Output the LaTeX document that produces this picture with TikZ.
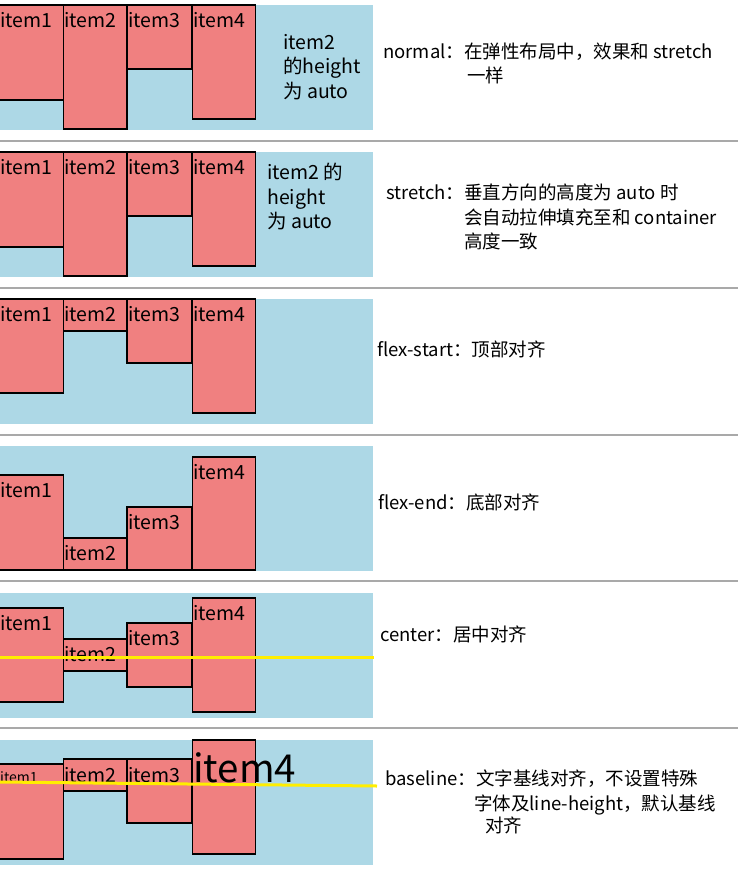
\documentclass[tikz,border=0pt]{standalone}
\usepackage{fontspec}
\setmainfont{Noto Sans CJK SC}
\definecolor{boxblue}{HTML}{ADD8E6}
\definecolor{itemred}{HTML}{F08080}
\definecolor{lineyellow}{HTML}{FFEE00}
\definecolor{rulegray}{HTML}{A9A9A9}
\begin{document}
\begin{tikzpicture}[x=1pt, y=-1pt,
		every node/.style={font=\fontsize{19.5}{23}\selectfont, inner sep=0pt, anchor=base west},
		container/.style={fill=boxblue},
		item/.style={draw, fill=itemred, line width=1.2pt},
		divider/.style={draw=rulegray, line width=1.5pt},
		guide/.style={draw=lineyellow, line width=3pt},
		note/.style={font=\fontsize{18.5}{22}\selectfont}]
	\useasboundingbox (0,0) rectangle (738,876);
	\foreach \t in {5,152,299,446,593,740}
		\fill[container] (0,\t) rectangle (373,\t+125);
	\foreach \y in {141,288,435,581,728}
		\draw[divider] (0,\y) -- (738,\y);
	% normal
	\foreach \n/\xa/\xb/\ya/\yb in {1/-1/63.3/5/100, 2/63.3/127/5/129, 3/127/191.7/5/69, 4/192.3/255.7/5/119} {
		\draw[item] (\xa,\ya) rectangle (\xb,\yb);
		\node (normal-\n) at (\xa+1,\ya+22) {item\n};
	}
	\node (normal-a) at (283,49) {item2};
	\node (normal-b) at (283,73) {的height};
	\node (normal-c) at (283,98) {为 auto};
	\node[note] (normal-t1) at (383,58) {normal：在弹性布局中，效果和 stretch};
	\node[note] (normal-t2) at (467,82) {一样};
	% stretch
	\foreach \n/\xa/\xb/\ya/\yb in {1/-1/63.3/152/247, 2/63.3/127/152/276, 3/127/191.7/152/216, 4/192.3/255.7/152/266} {
		\draw[item] (\xa,\ya) rectangle (\xb,\yb);
		\node (stretch-\n) at (\xa+1,\ya+22) {item\n};
	}
	\node (stretch-a) at (267,179) {item2 的};
	\node (stretch-b) at (267,204) {height};
	\node (stretch-c) at (267,228) {为 auto};
	\node[note] (stretch-t1) at (386,199) {stretch：垂直方向的高度为 auto 时};
	\node[note] (stretch-t2) at (464,224) {会自动拉伸填充至和 container};
	\node[note] (stretch-t3) at (464,248) {高度一致};
	% flex-start
	\foreach \n/\xa/\xb/\ya/\yb in {1/-1/63.3/299/393, 2/63.3/127/299/331, 3/127/191.7/299/363, 4/192.3/255.7/299/413} {
		\draw[item] (\xa,\ya) rectangle (\xb,\yb);
		\node (start-\n) at (\xa+1,\ya+22) {item\n};
	}
	\node[note] (start-t1) at (377,356) {flex-start：顶部对齐};
	% flex-end
	\foreach \n/\xa/\xb/\ya/\yb in {1/-1/63.3/475/570, 2/63.3/127/538/570, 3/127/191.7/507/570, 4/192.3/255.7/457/570} {
		\draw[item] (\xa,\ya) rectangle (\xb,\yb);
		\node (end-\n) at (\xa+1,\ya+22) {item\n};
	}
	\node[note] (end-t1) at (378,509) {flex-end：底部对齐};
	% center
	\foreach \n/\xa/\xb/\ya/\yb in {1/-1/63.3/608/702, 2/63.3/127/639/671, 3/127/191.7/623/687, 4/192.3/255.7/598/712} {
		\draw[item] (\xa,\ya) rectangle (\xb,\yb);
		\node (center-\n) at (\xa+1,\ya+22) {item\n};
	}
	\draw[guide] (0,657) -- (374,657);
	\node[note] (center-t1) at (380,641) {center：居中对齐};
	% baseline
	\draw[item] (-1,764) rectangle (63.3,859);
	\draw[item] (63.3,759) rectangle (127,791);
	\draw[item] (127,759) rectangle (191.7,823);
	\draw[item] (192.3,740) rectangle (255.7,854);
	\node[font=\fontsize{14}{17}\selectfont] (base-1) at (0,782) {item1};
	\node (base-2) at (64.3,782) {item2};
	\node (base-3) at (128,782) {item3};
	\node[font=\fontsize{38.5}{42}\selectfont] (base-4) at (193,782) {item4};
	\draw[guide] (0,782) -- (377,786);
	\node[note] (base-t1) at (385,785) {baseline：文字基线对齐，不设置特殊};
	\node[note] (base-t2) at (474,810) {字体及line-height，默认基线};
	\node[note] (base-t3) at (485,832) {对齐};
\end{tikzpicture}
\end{document}
